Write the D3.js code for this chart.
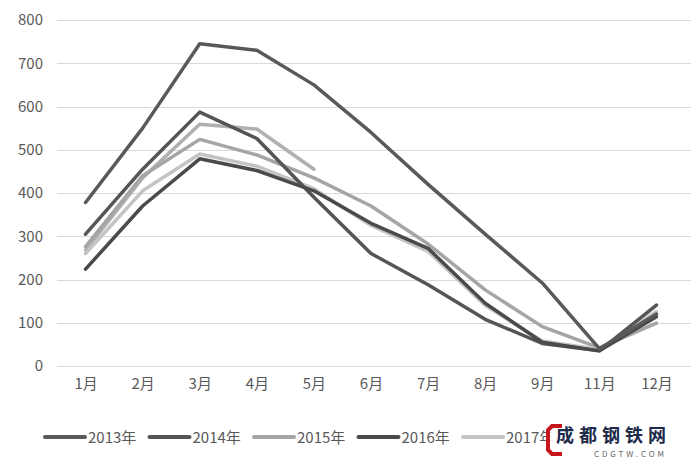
<!DOCTYPE html>
<html>
<head>
<meta charset="utf-8">
<script src="https://cdn.jsdelivr.net/npm/d3@7"></script>
<style>
body { margin: 0; background: #fff; }
text { font-family: "Liberation Sans Narrow", "Noto Sans CJK SC", sans-serif; fill: #595959; }
</style>
</head>
<body>
<svg id="chart" width="696" height="460"></svg>
<script>
var months = ["1月", "2月", "3月", "4月", "5月", "6月", "7月", "8月", "9月", "11月", "12月"];
// the 6th legend entry sits under the site watermark, so only 5 are drawn
var legendYears = ["2013年", "2014年", "2015年", "2016年", "2017年"];
var yTicks = [0, 100, 200, 300, 400, 500, 600, 700, 800];

var v2013 = [378, 550, 745, 730, 650, 540, 420, 305, 192, 40, 120];
var v2014 = [305, 455, 587, 526, 390, 260, 188, 108, 52, 35, 141];
var v2015 = [276, 440, 524, 488, 435, 370, 282, 176, 91, 42, 99];
var v2016 = [224, 370, 479, 452, 405, 330, 272, 145, 55, 35, 114];
var v2017 = [260, 405, 490, 462, 410, 325, 265, 140, 58, 38, 126];
var v2018 = [268, 435, 559, 548, 455];

var seriesVals = [v2013, v2014, v2015, v2016, v2017, v2018];
var colors = ["#595959", "#555555", "#a5a5a5", "#4a4a4a", "#c4c4c4", "#b0b0b0"];

var svg = d3.select("#chart");
var margin = {left: 57, right: 11, top: 20, bottom: 94};
var W = 696, H = 460;

var x = d3.scalePoint()
    .domain(months)
    .range([margin.left, W - margin.right])
    .padding(0.5);

var y = d3.scaleLinear()
    .domain([0, 800])
    .range([H - margin.bottom, margin.top]);

// gridlines
svg.append("g")
    .selectAll("line")
    .data(yTicks)
    .enter()
    .append("line")
        .attr("x1", margin.left)
        .attr("x2", W - margin.right + 6)
        .attr("y1", function(d) { return Math.round(y(d)) + 0.5; })
        .attr("y2", function(d) { return Math.round(y(d)) + 0.5; })
        .attr("stroke", "#d9d9d9")
        .attr("stroke-width", 1);

// y axis labels
var yAxis = d3.axisLeft(y).tickValues(yTicks).tickSize(0).tickPadding(14);
var ga = svg.append("g").attr("transform", "translate(" + margin.left + ",0)").call(yAxis);
ga.select(".domain").remove();
ga.selectAll("text").style("font-size", "15px").attr("fill", "#595959");

// x axis labels
var xAxis = d3.axisBottom(x).tickSize(0).tickPadding(12);
var gx = svg.append("g").attr("transform", "translate(0," + y(0) + ")").call(xAxis);
gx.select(".domain").remove();
gx.selectAll("text").style("font-size", "15px").attr("fill", "#595959");

var line = d3.line()
    .x(function(d, i) { return x(months[i]); })
    .y(function(d) { return y(d); });

// lighter ones first, darker on top
var order = [5, 2, 4, 1, 3, 0];
order.forEach(function(k) {
    svg.append("path")
        .datum(seriesVals[k])
        .attr("d", line)
        .attr("fill", "none")
        .attr("stroke", colors[k])
        .attr("stroke-width", 3.5)
        .attr("stroke-linejoin", "round")
        .attr("stroke-linecap", "round");
});

// legend
var leg = svg.append("g").attr("transform", "translate(45,437)");
var legStep = 104.5;
legendYears.forEach(function(name, i) {
    var g = leg.append("g").attr("transform", "translate(" + (i * legStep) + ",0)");
    g.append("line")
        .attr("x1", 0).attr("x2", 40)
        .attr("y1", 0).attr("y2", 0)
        .attr("stroke", colors[i])
        .attr("stroke-width", 4)
        .attr("stroke-linecap", "round");
    g.append("text")
        .attr("x", 43)
        .attr("y", 5.5)
        .style("font-size", "15px")
        .text(name);
});

// site watermark over the legend
var wm = svg.append("g").attr("transform", "translate(548,424)");
wm.append("rect").attr("x", 0).attr("y", 0).attr("width", 120).attr("height", 33).attr("fill", "#fff").attr("opacity", 0.9);
wm.append("path")
    .attr("d", "M14,2 L4,2 L0,6 L0,26 L4,30 L14,30")
    .attr("fill", "none")
    .attr("stroke", "#c8161d")
    .attr("stroke-width", 4);
wm.append("text")
    .attr("x", 8).attr("y", 18)
    .style("font-size", "18px")
    .style("font-weight", "bold")
    .style("font-family", "'Noto Sans CJK SC', sans-serif")
    .style("fill", "#1d2a4a")
    .attr("textLength", 110)
    .text("成都钢铁网");
wm.append("text")
    .attr("x", 46).attr("y", 33)
    .style("font-size", "8px")
    .style("fill", "#666")
    .attr("textLength", 70)
    .text("CDGTW.COM");
</script>
</body>
</html>
